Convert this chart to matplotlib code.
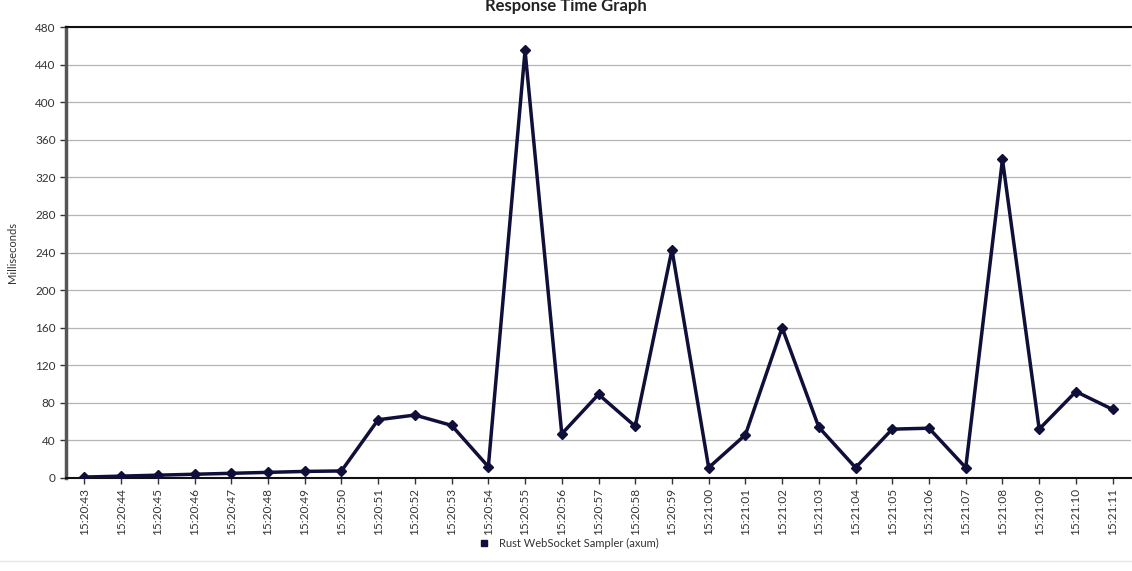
import matplotlib.pyplot as plt
from matplotlib.lines import Line2D

plt.rcParams['font.family'] = ['Lato', 'DejaVu Sans']

times = ['15:20:43', '15:20:44', '15:20:45', '15:20:46', '15:20:47', '15:20:48',
         '15:20:49', '15:20:50', '15:20:51', '15:20:52', '15:20:53', '15:20:54',
         '15:20:55', '15:20:56', '15:20:57', '15:20:58', '15:20:59', '15:21:00',
         '15:21:01', '15:21:02', '15:21:03', '15:21:04', '15:21:05', '15:21:06',
         '15:21:07', '15:21:08', '15:21:09', '15:21:10', '15:21:11']
response_ms = [1, 2, 3, 4, 5, 6, 7, 7.5, 62, 67, 56, 12, 455, 47, 89, 55, 243,
               11, 46, 160, 54, 11, 52, 53, 11, 339, 52, 92, 73]
yticks = list(range(0, 481, 40))

line_color = '#0f0f3a'

fig = plt.figure(figsize=(11.32, 5.71), dpi=100)
ax = fig.add_axes([66 / 1132, 1 - 478 / 571, 1065 / 1132, 451 / 571])

x = list(range(len(times)))
ax.plot(x, response_ms, color=line_color, lw=2.5, marker='D', ms=5.5,
        label='Rust WebSocket Sampler (axum)', zorder=3)

ax.set_xlim(-0.5, len(times) - 0.5)
ax.set_ylim(0, 480)
ax.set_yticks(yticks)
ax.set_xticks(x)
ax.set_xticklabels(times, rotation=90)
ax.tick_params(axis='both', labelsize=8.5, colors='#333333', length=4, width=1)
ax.tick_params(axis='x', pad=3)
ax.yaxis.grid(True, color='#b5b5b5', lw=0.9)
ax.set_axisbelow(True)

ax.spines['top'].set_color('#111111')
ax.spines['top'].set_linewidth(1.5)
ax.spines['bottom'].set_color('#111111')
ax.spines['bottom'].set_linewidth(1.5)
ax.spines['left'].set_color('#555555')
ax.spines['left'].set_linewidth(2.5)
ax.spines['right'].set_visible(False)

ax.set_ylabel('Milliseconds', fontsize=8, color='#333333', labelpad=12)
fig.text(0.5, 1 - 6 / 571, 'Response Time Graph', ha='center', va='center',
         fontsize=12, fontweight='bold', color='#222222')

handle = Line2D([], [], color=line_color, marker='s', ls='none', ms=5)
fig.legend([handle], ['Rust WebSocket Sampler (axum)'], loc='center',
           bbox_to_anchor=(0.5, 1 - 543 / 571), frameon=False, fontsize=8,
           handletextpad=0.3, labelcolor='#333333')

fig.add_artist(Line2D([0, 1], [1 - 561 / 571, 1 - 561 / 571],
                      color='#e6e6e6', lw=1))

fig.savefig('out.png', dpi=100)
